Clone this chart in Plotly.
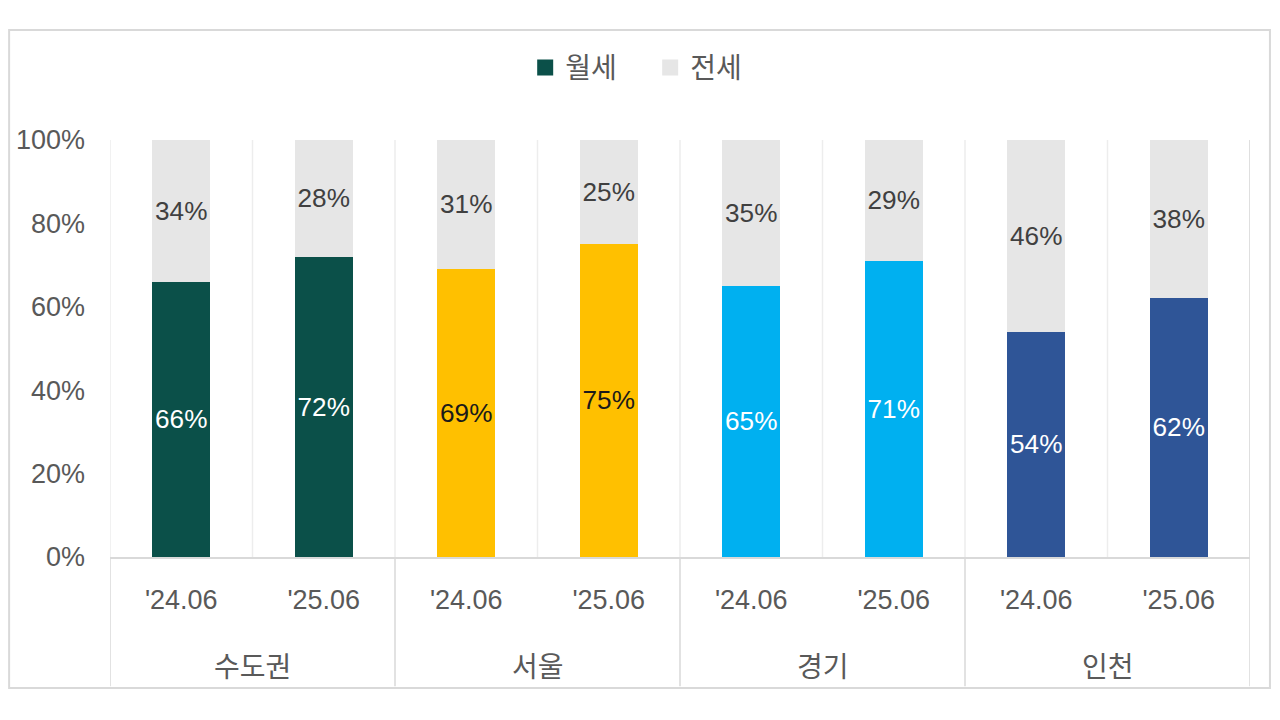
import plotly.graph_objects as go

# data
regions = ["수도권", "서울", "경기", "인천"]
periods = ["'24.06", "'25.06"]
monthly = [66, 72, 69, 75, 65, 71, 54, 62]   # 월세 share
jeonse = [34, 28, 31, 25, 35, 29, 46, 38]    # 전세 share

region_colors = ["#0B5049", "#FFC000", "#00B0F0", "#2F5597"]
label_colors = ["#FFFFFF", "#1A1A1A", "#FFFFFF", "#FFFFFF"]
jeonse_color = "#E6E6E6"

n_per = len(periods)
xpos = list(range(len(monthly)))
ticktext = [p for _ in regions for p in periods]
bar_colors = [region_colors[i // n_per] for i in xpos]
bar_text_colors = [label_colors[i // n_per] for i in xpos]

FONT = "Liberation Sans, Arial, sans-serif"
KFONT = "Noto Sans CJK KR, sans-serif"
GRID = "#EDEDED"
LINE = "#D9D9D9"
TXT = "#595959"

fig = go.Figure()
fig.add_trace(go.Bar(
    x=xpos, y=monthly, name="월세", showlegend=False,
    marker=dict(color=bar_colors, line=dict(width=0)),
    width=0.41,
    text=[f"{v}%" for v in monthly],
    textposition="inside", insidetextanchor="middle", textangle=0,
    insidetextfont=dict(color=bar_text_colors, size=27, family=FONT),
))
fig.add_trace(go.Bar(
    x=xpos, y=jeonse, name="전세", showlegend=False,
    marker=dict(color=jeonse_color, line=dict(width=0)),
    width=0.41,
    text=[f"{v}%" for v in jeonse],
    textposition="inside", insidetextanchor="middle", textangle=0,
    insidetextfont=dict(color="#404040", size=27, family=FONT),
))
# legend entries with square swatches
for nm, col in [("월세", region_colors[0]), ("전세", jeonse_color)]:
    fig.add_trace(go.Scatter(
        x=[None], y=[None], mode="markers", name=nm,
        marker=dict(symbol="square", size=17, color=col),
    ))

shapes = []
# light vertical gridlines between bars
for i in range(len(xpos) + 1):
    xb = i - 0.5
    shapes.append(dict(type="line", xref="x", yref="paper", x0=xb, x1=xb,
                       y0=0, y1=1, line=dict(color=GRID, width=1.5), layer="below"))
# group dividers under the axis
for g in range(len(regions) + 1):
    xb = g * n_per - 0.5
    shapes.append(dict(type="line", xref="x", yref="paper", x0=xb, x1=xb,
                       y0=-0.31, y1=0, line=dict(color=LINE, width=1.5)))
shapes.append(dict(type="line", xref="x", yref="paper", x0=len(xpos) - 0.5, x1=len(xpos) - 0.5,
                   y0=0, y1=1, line=dict(color=LINE, width=1.5)))
# outer chart border
shapes.append(dict(type="rect", xref="paper", yref="paper", x0=-0.0885, x1=1.0175,
                   y0=-0.314, y1=1.264, line=dict(color=LINE, width=2)))

annotations = []
for g, r in enumerate(regions):
    annotations.append(dict(x=g * n_per + (n_per - 1) / 2, xref="x", y=-0.259, yref="paper",
                            text=r, showarrow=False, yanchor="middle",
                            font=dict(size=28, color=TXT, family=KFONT)))

fig.update_layout(
    width=1280, height=720,
    barmode="stack",
    paper_bgcolor="white", plot_bgcolor="white",
    margin=dict(l=102, r=38, t=132, b=171, autoexpand=False),
    font=dict(family=FONT, size=27, color=TXT),
    showlegend=True,
    legend=dict(orientation="h", x=0.3642, y=1.173, xanchor="left", yanchor="middle",
                bgcolor="rgba(0,0,0,0)", entrywidth=80, entrywidthmode="pixels",
                font=dict(size=28, color=TXT, family=KFONT), itemwidth=30, traceorder="normal"),
    xaxis=dict(range=[-0.5, len(xpos) - 0.5], tickvals=xpos, ticktext=ticktext, automargin=False,
               showgrid=False, zeroline=False, showline=True, linecolor=LINE, linewidth=1.5,
               ticks="", ticklabelstandoff=18, tickfont=dict(size=27, color=TXT)),
    yaxis=dict(range=[0, 100], dtick=20, ticksuffix="%", showgrid=False, zeroline=False,
               showline=False, ticks="", ticklabelstandoff=24, automargin=False,
               tickfont=dict(size=27, color=TXT)),
    shapes=shapes,
    annotations=annotations,
    uniformtext=dict(minsize=8, mode="show"),
)

fig.write_html("out.html")
